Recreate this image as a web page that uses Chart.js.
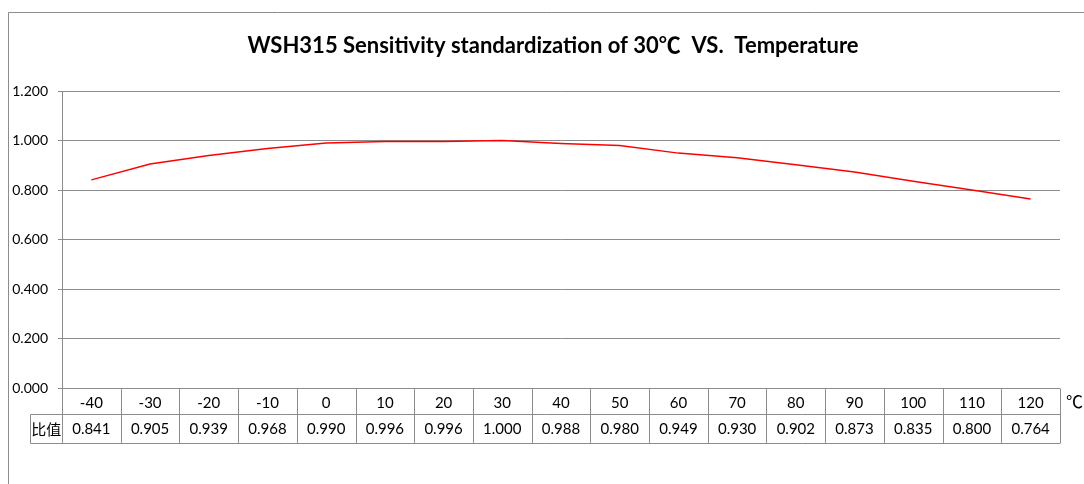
<!DOCTYPE html>
<html>
<head>
<meta charset="utf-8">
<script src="https://cdn.jsdelivr.net/npm/chart.js@4/dist/chart.umd.min.js"></script>
<style>
  html, body { margin: 0; padding: 0; background: #fff; }
  #wrap { width: 1084px; height: 484px; }
</style>
</head>
<body>
<div id="wrap"><canvas id="ratioChart" width="1084" height="484"></canvas></div>
<script>
// Data
var temps = ['-40', '-30', '-20', '-10', '0', '10', '20', '30', '40', '50', '60', '70', '80', '90', '100', '110', '120'];
var ratios = [0.841, 0.905, 0.939, 0.968, 0.990, 0.996, 0.996, 1.000, 0.988, 0.980, 0.949, 0.930, 0.902, 0.873, 0.835, 0.800, 0.764];
var rowLabel = '比值';
var unitLabel = '℃';
var titleText = 'WSH315 Sensitivity standardization of 30℃  VS.  Temperature';

var gridColor = '#8c8c8c';
var numFont = 'Lato, "Open Sans", sans-serif';

// Frame, title and the data table below the plot
var tablePlugin = {
    id: 'dataTable',
    beforeDraw: function (chart) {
        var ctx = chart.ctx;
        ctx.save();
        ctx.strokeStyle = gridColor;
        ctx.lineWidth = 1;
        ctx.beginPath();
        ctx.moveTo(8.5, 484);
        ctx.lineTo(8.5, 12.5);
        ctx.lineTo(1084, 12.5);
        ctx.stroke();

        // title, centred over the plot area
        var area = chart.chartArea;
        ctx.fillStyle = '#000';
        ctx.font = 'bold 22px Lato, "Noto Sans CJK SC", sans-serif';
        ctx.textAlign = 'center';
        ctx.textBaseline = 'middle';
        ctx.fillText(titleText, (area.left + area.right) / 2 - 8, 46);
        ctx.restore();
    },
    afterDraw: function (chart) {
        var ctx = chart.ctx;
        var x = chart.scales.x;
        var area = chart.chartArea;
        var n = temps.length;
        var colW = (area.right - area.left) / n;
        var top = Math.round(area.bottom) + 0.5;
        var mid = top + 26;
        var bot = top + 55;
        var labelLeft = 30.5;

        ctx.save();
        ctx.strokeStyle = gridColor;
        ctx.lineWidth = 1;
        ctx.beginPath();
        // horizontal lines
        ctx.moveTo(area.left, top); ctx.lineTo(area.right, top);
        ctx.moveTo(labelLeft, mid); ctx.lineTo(area.right, mid);
        ctx.moveTo(labelLeft, bot); ctx.lineTo(area.right, bot);
        ctx.moveTo(labelLeft, mid); ctx.lineTo(labelLeft, bot);
        for (var i = 0; i <= n; i++) {
            var bx = Math.round(area.left + i * colW) + 0.5;
            ctx.moveTo(bx, top); ctx.lineTo(bx, bot);
        }
        ctx.stroke();

        ctx.fillStyle = '#000';
        ctx.textAlign = 'center';
        ctx.textBaseline = 'middle';
        ctx.font = '15px ' + numFont;
        for (var j = 0; j < n; j++) {
            var cx = x.getPixelForValue(j);
            ctx.fillText(temps[j], cx, top + 15);
            ctx.fillText(ratios[j].toFixed(3), cx, mid + 15);
        }
        ctx.font = '15px "Noto Sans CJK SC", sans-serif';
        ctx.fillText(rowLabel, (labelLeft + area.left) / 2, mid + 15);
        ctx.font = '17px "Noto Sans CJK SC", sans-serif';
        ctx.textAlign = 'left';
        ctx.fillText(unitLabel, area.right + 6, top + 13);
        ctx.restore();
    }
};

var ctx = document.getElementById('ratioChart').getContext('2d');
var chart = new Chart(ctx, {
    type: 'line',
    data: {
        labels: temps,
        datasets: [{
            label: rowLabel,
            data: ratios,
            borderColor: '#ff0000',
            backgroundColor: '#ff0000',
            borderWidth: 1.5,
            pointRadius: 0,
            tension: 0,
            fill: false
        }]
    },
    options: {
        responsive: false,
        animation: false,
        layout: { padding: { left: 0, right: 24, top: 91, bottom: 0 } },
        plugins: {
            legend: { display: false },
            tooltip: { enabled: false },
            title: { display: false }
        },
        scales: {
            x: {
                offset: true,
                grid: { display: false, drawTicks: false },
                border: { display: false },
                ticks: { display: false },
                afterFit: function (scale) { scale.height = 96; }
            },
            y: {
                min: 0,
                max: 1.2,
                ticks: {
                    stepSize: 0.2,
                    color: '#000',
                    padding: 10,
                    font: { family: numFont, size: 14 },
                    callback: function (v) { return Number(v).toFixed(3); }
                },
                grid: { color: gridColor, tickLength: 4 },
                border: { display: true, color: gridColor },
                afterFit: function (scale) { scale.width = 62; }
            }
        }
    },
    plugins: [tablePlugin]
});
</script>
</body>
</html>
